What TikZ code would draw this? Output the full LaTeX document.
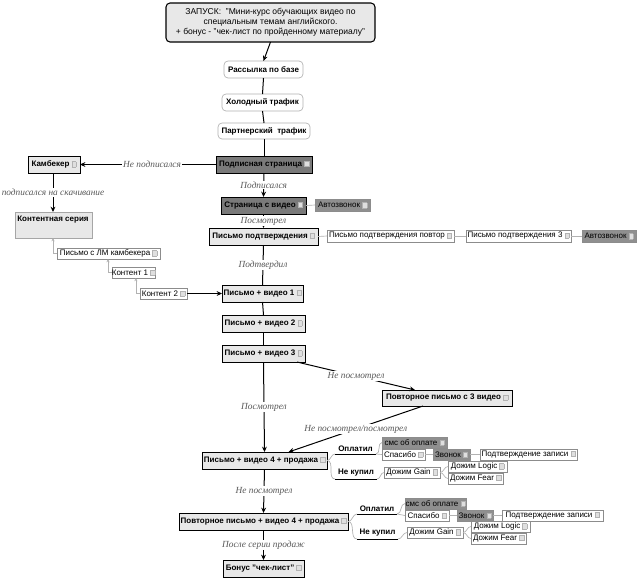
\documentclass[tikz,border=0pt]{standalone}
\usepackage{fontspec}
\setmainfont{Liberation Sans}
\newfontfamily\lblfont{Liberation Serif}
\usetikzlibrary{arrows.meta,calc}
\definecolor{lt}{gray}{0.91}
\definecolor{dk}{gray}{0.48}
\definecolor{dk2}{gray}{0.56}
\definecolor{gb}{gray}{0.55}
\newcommand\ic{\hspace{1.6pt}{\fboxsep=0pt\fboxrule=0.3pt\color{gray!60}\fbox{\textcolor{gray!25}{\rule[0pt]{3pt}{3.6pt}}}}}
\newcommand\bx[7][]{\node[box,#1,minimum width={(#5-#3)*0.75pt},minimum height={(#6-#4)*0.75pt}] (#2) at ({(#3+#5)/2},{(#4+#6)/2}) {#7};}
\begin{document}
\begin{tikzpicture}[x=0.75pt,y=-0.75pt,font=\fontsize{6}{7}\selectfont,
  box/.style={inner sep=0pt,outer sep=0pt,align=center},
  top/.style={draw=black,line width=0.8pt,fill=lt,rounded corners=3pt,font=\fontsize{6.4}{7.6}\selectfont},
  main/.style={draw=black,line width=0.75pt,fill=lt,font=\fontsize{6}{7}\selectfont\bfseries},
  dark/.style={draw=black,line width=0.75pt,fill=dk,font=\fontsize{6}{7}\selectfont\bfseries},
  rnd/.style={draw=gray!60,line width=0.5pt,rounded corners=3pt,fill=white,font=\fontsize{6}{7}\selectfont\bfseries},
  lbox/.style={draw=gray!70,line width=0.5pt,fill=lt},
  sm/.style={draw=gb,line width=0.5pt,fill=white},
  smdk/.style={draw=gb,line width=0.5pt,fill=dk2},
  br/.style={font=\fontsize{6}{7}\selectfont\bfseries},
  lbl/.style={font=\lblfont\itshape\fontsize{7}{8}\selectfont,text=black!65,fill=white,inner sep=0.6pt},
  arr/.style={-{Stealth[length=4pt,width=3.6pt]},line width=0.75pt},
  con/.style={line width=0.75pt},
  gcon/.style={draw=gray!60,line width=0.5pt},
  garr/.style={gcon,{Stealth[length=2.4pt,width=2.2pt]}-}]
\useasboundingbox (0,0) rectangle (641,583);
\fill[white] (0,0) rectangle (641,583);

% top column
\bx[top]{zap}{166}{3}{375}{42}{ЗАПУСК:\ \ "Мини-курс обучающих видео по\\специальным темам английского.\\+ бонус - "чек-лист по пройденному материалу"}
\bx[rnd]{rass}{224}{61}{303}{78}{Рассылка по базе}
\bx[rnd]{hol}{222}{94}{303}{111}{Холодный трафик}
\bx[rnd]{part}{218}{123}{310}{139}{Партнерский\ \ трафик}
\bx[dark]{podp}{216}{156}{312}{173}{Подписная страница\ic}

% left branch
\bx[main]{kamb}{28}{156}{80}{173}{Камбекер\ic}
\bx[lbox]{kont}{15}{212}{92}{238}{}
\node[br,inner sep=0pt] (konttxt) at (53,220) {Контентная серия};
\bx[sm]{lm}{57}{248}{160}{259}{Письмо с ЛМ камбекера\ic}
\bx[sm]{k1}{112}{267}{155}{278}{Контент 1\ic}
\bx[sm]{k2}{140}{288}{187}{299}{Контент 2\ic}

% main column
\bx[dark]{str}{221}{197}{306}{214}{Страница с видео\ic}
\bx[smdk]{avt1}{315}{199}{370}{211}{Автозвонок\ic}
\bx[main]{pp}{209}{228}{318}{245}{Письмо подтверждения\ic}
\bx[sm]{ppp}{327}{230}{454}{242}{Письмо подтверждения повтор\ic}
\bx[sm]{pp3}{466}{230}{571}{242}{Письмо подтверждения 3\ic}
\bx[smdk]{avt2}{582}{230}{636}{242}{Автозвонок\ic}
\bx[main]{pv1}{222}{285}{303}{302}{Письмо + видео 1\ic}
\bx[main]{pv2}{222}{315}{305}{332}{Письмо + видео 2\ic}
\bx[main]{pv3}{222}{345}{305}{362}{Письмо + видео 3\ic}
\bx[main]{pov3}{382}{390}{512}{406}{Повторное письмо с 3 видео\ic}
\bx[main]{pv4}{202}{452}{327}{469}{Письмо + видео 4 + продажа\ic}
\bx[main]{ppv4}{179}{513}{348}{530}{Повторное письмо + видео 4 + продажа\ic}
\bx[main]{bon}{223}{560}{304}{577}{Бонус "чек-лист"\ic}

% first sales group
\bx[br]{op1}{335}{443}{376}{454}{Оплатил}
\bx[br]{nk1}{335}{467}{377}{479}{Не купил}
\bx[smdk]{sms1}{382}{437}{447}{448}{смс об оплате\ic}
\bx[sm]{sp1}{382}{449}{425}{460}{Спасибо\ic}
\bx[smdk]{zv1}{433}{449}{470}{460}{Звонок\ic}
\bx[sm]{pz1}{480}{449}{577}{460}{Подтверждение записи\ic}
\bx[sm]{dg1}{384}{467}{440}{478}{Дожим Gain\ic}
\bx[sm]{dl1}{448}{461}{507}{472}{Дожим Logic\ic}
\bx[sm]{df1}{448}{473}{503}{484}{Дожим Fear\ic}

% second sales group
\bx[br]{op2}{357}{503}{397}{514}{Оплатил}
\bx[br]{nk2}{357}{527}{398}{539}{Не купил}
\bx[smdk]{sms2}{405}{498}{466}{509}{смс об оплате\ic}
\bx[sm]{sp2}{405}{510}{449}{521}{Спасибо\ic}
\bx[smdk]{zv2}{457}{510}{493}{521}{Звонок\ic}
\bx[sm]{pz2}{502}{510}{603}{521}{Подтверждение записи\ic}
\bx[sm]{dg2}{407}{527}{463}{538}{Дожим Gain\ic}
\bx[sm]{dl2}{471}{521}{530}{532}{Дожим Logic\ic}
\bx[sm]{df2}{471}{533}{526}{544}{Дожим Fear\ic}

% underlines of branch labels
\foreach \n in {op1,nk1,op2,nk2}{\draw[line width=0.7pt] (\n.south west) -- (\n.south east);}

% main connectors
\draw[arr] (zap.south) -- (rass.north);
\draw[con] (rass.south) -- (hol.north);
\draw[con] (hol.south) -- (part.north);
\draw[con] (part.south) -- (podp.north);
\draw[arr] (podp.west) -- node[lbl,pos=0.47]{Не подписался} (kamb.east);
\draw[arr] (kamb.south -| konttxt) -- node[lbl]{подписался на скачивание} (kont.north -| konttxt);
\draw[arr] (podp.south) -- node[lbl]{Подписался} (str.north);
\draw[arr] (str.south) -- node[lbl]{Посмотрел} (pp.north);
\draw[con] (pp.south) -- node[lbl]{Подтвердил} (pv1.north);
\draw[con] (pv1.south) -- (pv2.north);
\draw[con] (pv2.south) -- (pv3.north);
\draw[arr] (pv3.south) -- node[lbl]{Посмотрел} (pv4.north);
\draw[arr] ($(pv3.south east)+(-8,0)$) -- node[lbl]{Не посмотрел} ($(pov3.north west)+(33,0)$);
\draw[arr] ($(pov3.south west)+(41,0)$) -- node[lbl,pos=0.5]{Не посмотрел/посмотрел} ($(pv4.north)+(24,0)$);
\draw[arr] (pv4.south) -- node[lbl]{Не посмотрел} (ppv4.north);
\draw[arr] (ppv4.south) -- node[lbl]{После серии продаж} (bon.north);
\draw[arr] (k2.east) -- (pv1.west);

% gray tree on the left
\draw[garr] ($(kont.south west)+(38,0)$) |- (lm.west);
\draw[garr] ($(lm.south west)+(51,0)$) |- (k1.west);
\draw[garr] ($(k1.south west)+(24,0)$) |- (k2.west);

% gray chains
\draw[gcon] (str.east) -- (avt1.west);
\draw[gcon] (pp.east) -- (ppp.west);
\draw[gcon] (ppp.east) -- (pp3.west);
\draw[gcon] (pp3.east) -- (avt2.west);

% sales group connectors
\draw[gcon] (pv4.east) to[out=0,in=180] (op1.south west);
\draw[gcon] (pv4.east) to[out=0,in=180] (nk1.south west);
\draw[gcon] (op1.south east) to[out=0,in=180] (sms1.west);
\draw[gcon] (op1.south east) to[out=0,in=180] (sp1.west);
\draw[gcon] (nk1.south east) to[out=0,in=180] (dg1.west);
\draw[gcon] (sp1.east) -- (zv1.west);
\draw[gcon] (zv1.east) -- (pz1.west);
\draw[gcon] (dg1.east) to[out=0,in=180] (dl1.west);
\draw[gcon] (dg1.east) to[out=0,in=180] (df1.west);

\draw[gcon] (ppv4.east) to[out=0,in=180] (op2.south west);
\draw[gcon] (ppv4.east) to[out=0,in=180] (nk2.south west);
\draw[gcon] (op2.south east) to[out=0,in=180] (sms2.west);
\draw[gcon] (op2.south east) to[out=0,in=180] (sp2.west);
\draw[gcon] (nk2.south east) to[out=0,in=180] (dg2.west);
\draw[gcon] (sp2.east) -- (zv2.west);
\draw[gcon] (zv2.east) -- (pz2.west);
\draw[gcon] (dg2.east) to[out=0,in=180] (dl2.west);
\draw[gcon] (dg2.east) to[out=0,in=180] (df2.west);
\end{tikzpicture}
\end{document}
